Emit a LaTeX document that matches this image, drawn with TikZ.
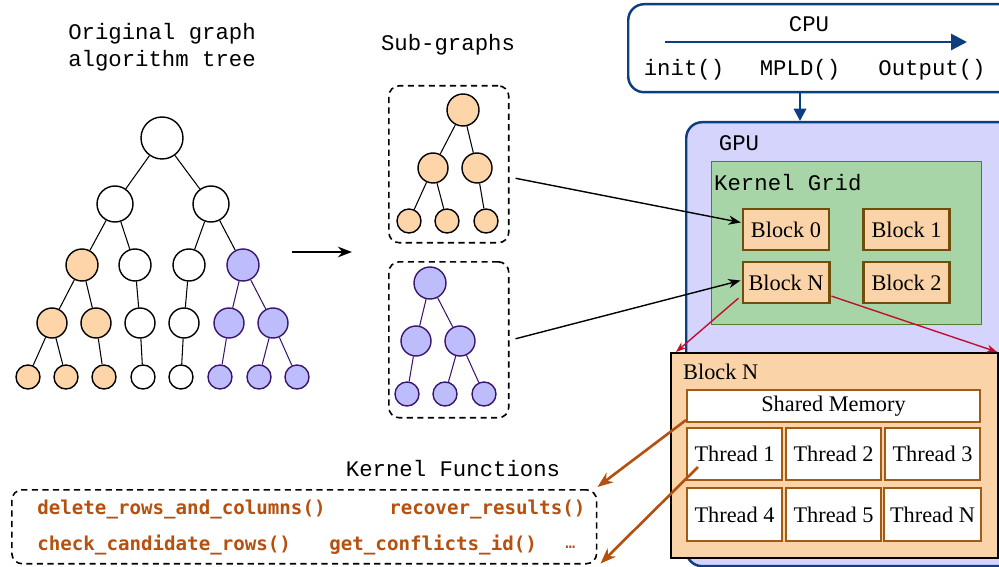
\documentclass[tikz,border=0pt]{standalone}
\usepackage{fontspec}
\setmainfont{Liberation Serif}
\setmonofont{Liberation Mono}
\newfontfamily\kfont{DejaVu Sans Mono}
\usetikzlibrary{arrows.meta,calc}

\definecolor{peach}{RGB}{253,213,168}
\definecolor{lav}{RGB}{189,189,252}
\definecolor{lavline}{RGB}{60,20,110}
\definecolor{cpublue}{RGB}{12,62,128}
\definecolor{gpufill}{RGB}{212,212,252}
\definecolor{gridfill}{RGB}{168,213,168}
\definecolor{gridline}{RGB}{78,128,46}
\definecolor{blockfill}{RGB}{250,212,168}
\definecolor{blockline}{RGB}{110,78,10}
\definecolor{thline}{RGB}{160,92,20}
\definecolor{redarr}{RGB}{192,16,48}
\definecolor{kfcol}{RGB}{182,80,14}

\newcommand\monolbl{\ttfamily\fontsize{12.7}{15.4}\selectfont}
\newcommand\serlbl{\rmfamily\fontsize{12.7}{15.4}\selectfont}
\newcommand\kflbl{\kfont\bfseries\fontsize{10.9}{13}\selectfont}

\begin{document}
\begin{tikzpicture}[x=0.02cm, y=-0.02cm,
    onode/.style={circle, draw, line width=0.8pt, fill=peach, inner sep=0pt},
    pnode/.style={circle, draw=lavline, line width=0.8pt, fill=lav, inner sep=0pt},
    wnode/.style={circle, draw, line width=0.8pt, fill=white, inner sep=0pt},
    lvA/.style={minimum size=0.84cm},
    lvB/.style={minimum size=0.72cm},
    lvC/.style={minimum size=0.64cm},
    lvD/.style={minimum size=0.6cm},
    lvE/.style={minimum size=0.48cm},
    edge/.style={line width=0.6pt},
    pedge/.style={line width=0.6pt, draw=lavline},
    dbox/.style={draw, dash pattern=on 3.5pt off 2.5pt, line width=0.9pt, rounded corners=6pt, anchor=north west, inner sep=0pt},
    blk/.style={draw=blockline, line width=1.3pt, fill=blockfill, minimum width=1.72cm, minimum height=0.82cm, font=\serlbl},
    thr/.style={draw=thline, line width=1.2pt, fill=white, minimum width=1.9cm, minimum height=1.05cm, font=\serlbl},
    kf/.style={anchor=west, text=kfcol, font=\kflbl, inner sep=0pt}]
\useasboundingbox (0,0) rectangle (999,567);
\clip (0,0) rectangle (999,567);

% original tree
\node (title) [align=center, font=\monolbl] at (162,47) {Original graph\\algorithm tree};
\node (t0) [wnode, lvA] at (162,138) {};
\node (t1) [wnode, lvB] at (115,204) {};
\node (t2) [wnode, lvB] at (211,204) {};
\node (t3) [onode, lvC] at (82,265) {};
\node (t4) [wnode, lvC] at (135,265) {};
\node (t5) [wnode, lvC] at (189,265) {};
\node (t6) [pnode, lvC] at (243,265) {};
\node (t7) [onode, lvD] at (52,323) {};
\node (t8) [onode, lvD] at (96,323) {};
\node (t9) [wnode, lvD] at (140,323) {};
\node (t10) [wnode, lvD] at (184,323) {};
\node (t11) [pnode, lvD] at (229,323) {};
\node (t12) [pnode, lvD] at (273,323) {};
\node (t13) [onode, lvE] at (28,377) {};
\node (t14) [onode, lvE] at (66,377) {};
\node (t15) [onode, lvE] at (104,377) {};
\node (t16) [wnode, lvE] at (143,377) {};
\node (t17) [wnode, lvE] at (181,377) {};
\node (t18) [pnode, lvE] at (220,377) {};
\node (t19) [pnode, lvE] at (259,377) {};
\node (t20) [pnode, lvE] at (297,377) {};
\foreach \a/\b in {t0/t1, t0/t2, t1/t3, t1/t4, t2/t5, t2/t6, t3/t7, t3/t8, t4/t9, t5/t10, t7/t13, t7/t14, t8/t15, t9/t16, t10/t17}
    \draw[edge] (\a) -- (\b);
\foreach \a/\b in {t6/t11, t6/t12, t11/t18, t12/t19, t12/t20}
    \draw[pedge] (\a) -- (\b);

\coordinate (split0) at (292,252);
\coordinate (split1) at (352,252);
\draw[-{Stealth[length=8pt]}, line width=1.6pt] (split0) -- (split1);

% sub-graphs
\node (subt) [font=\monolbl] at (448,45) {Sub-graphs};
\node (sg1) [dbox, minimum width=2.4cm, minimum height=3.14cm] at (388,85) {};
\node (sg2) [dbox, minimum width=2.4cm, minimum height=3.12cm] at (388,261) {};
\node (u0) [onode, lvC] at (463,110) {};
\node (u1) [onode, lvD] at (433,168) {};
\node (u2) [onode, lvD] at (477,168) {};
\node (u3) [onode, lvE] at (409,221) {};
\node (u4) [onode, lvE] at (447,221) {};
\node (u5) [onode, lvE] at (486,221) {};
\foreach \a/\b in {u0/u1, u0/u2, u1/u3, u1/u4, u2/u5}
    \draw[edge] (\a) -- (\b);
\node (v0) [pnode, lvC] at (430,283) {};
\node (v1) [pnode, lvD] at (416,341) {};
\node (v2) [pnode, lvD] at (460,341) {};
\node (v3) [pnode, lvE] at (407,394) {};
\node (v4) [pnode, lvE] at (445,394) {};
\node (v5) [pnode, lvE] at (484,394) {};
\foreach \a/\b in {v0/v1, v0/v2, v1/v3, v2/v4, v2/v5}
    \draw[pedge] (\a) -- (\b);

% CPU
\node (cpu) [draw=cpublue, line width=1.4pt, rounded corners=9pt, anchor=north west, minimum width=7.8cm, minimum height=1.76cm] at (627,3) {};
\node (cput) [font=\monolbl] at (809,24) {CPU};
\coordinate (flow0) at (665,42);
\coordinate (flow1) at (967,42);
\draw[cpublue, line width=1.6pt, -{Triangle[length=9pt, width=9pt]}] (flow0) -- (flow1);
\node (init) [font=\monolbl] at (684,70) {init()};
\node (mpld) [font=\monolbl] at (800,70) {MPLD()};
\node (outp) [font=\monolbl] at (932,70) {Output()};

% GPU
\node (gpu) [draw=cpublue, fill=gpufill, line width=1.4pt, rounded corners=9pt, anchor=north west, minimum width=6.8cm, minimum height=8.88cm] at (685,121) {};
\draw[cpublue, line width=1.4pt, -{Triangle[length=7pt, width=7pt]}] (mpld |- cpu.south) -- (mpld |- gpu.north);
\node (gput) [font=\monolbl] at (739,143) {GPU};
\node (grid) [draw=gridline, fill=gridfill, line width=0.8pt, anchor=north west, minimum width=5.4cm, minimum height=3.26cm] at (711,161) {};
\node (gridt) [font=\monolbl, anchor=west] at (708,183) {Kernel Grid};
\node (b0) [blk] at (786,229.5) {Block 0};
\node (b1) [blk] at (906.5,229.5) {Block 1};
\node (bN) [blk] at (786,282.5) {Block N};
\node (b2) [blk] at (906.5,282.5) {Block 2};

% block N detail
\node (big) [draw, fill=blockfill, line width=1.3pt, anchor=north west, minimum width=6.54cm, minimum height=4.1cm] at (670,352) {};
\node (bigt) [font=\serlbl, anchor=west] at (677,372) {Block N};
\node (shm) [draw=thline, line width=1.2pt, fill=white, minimum width=5.86cm, minimum height=0.58cm, font=\serlbl] at (833.5,406) {Shared Memory};
\node (th1) [thr] at (734.5,454) {Thread 1};
\node (th2) [thr] at (833.5,454) {Thread 2};
\node (th3) [thr] at (932.5,454) {Thread 3};
\node (th4) [thr] at (734.5,514.5) {Thread 4};
\node (th5) [thr] at (833.5,514.5) {Thread 5};
\node (thN) [thr] at (932.5,514.5) {Thread N};

% kernel functions
\node (kft) [font=\monolbl] at (453,469) {Kernel Functions};
\node (kfb) [dbox, minimum width=11.7cm, minimum height=1.48cm] at (11,489) {};
\node (f1) [kf] at (37,509) {delete\_rows\_and\_columns()};
\node (f2) [kf] at (389,509) {recover\_results()};
\node (f3) [kf] at (37,545) {check\_candidate\_rows()};
\node (f4) [kf] at (329,545) {get\_conflicts\_id()};
\node (f5) [anchor=west, text=kfcol, inner sep=0pt, font=\kfont\fontsize{9.5}{11}\selectfont] at (565,547) {\ldots};

% connectors
\draw[-{Stealth[length=7pt]}, line width=0.8pt] ($(sg1.east)+(6,14)$) -- ($(b0.west)+(-1,-7)$);
\draw[-{Stealth[length=7pt]}, line width=0.8pt] ($(sg2.east)+(6,-1)$) -- ($(bN.west)+(-1,-2)$);
\draw[redarr, line width=0.8pt, -{Stealth[length=6pt]}] ($(bN.south west)+(-3,-6)$) -- ($(big.north west)+(6,0)$);
\draw[redarr, line width=0.8pt, -{Stealth[length=6pt]}] ($(bN.south east)+(1,-8)$) -- ($(big.north east)+(-2,0)$);
\draw[kfcol, line width=1.5pt, -{Stealth[length=9pt]}] ($(shm.south west)+(0,-3)$) -- ($(kfb.north east)+(0,-2)$);
\draw[kfcol, line width=1.5pt, -{Stealth[length=9pt]}] ($(th1.west)+(12,13)$) -- ($(kfb.south east)+(3,-1)$);
\end{tikzpicture}
\end{document}
